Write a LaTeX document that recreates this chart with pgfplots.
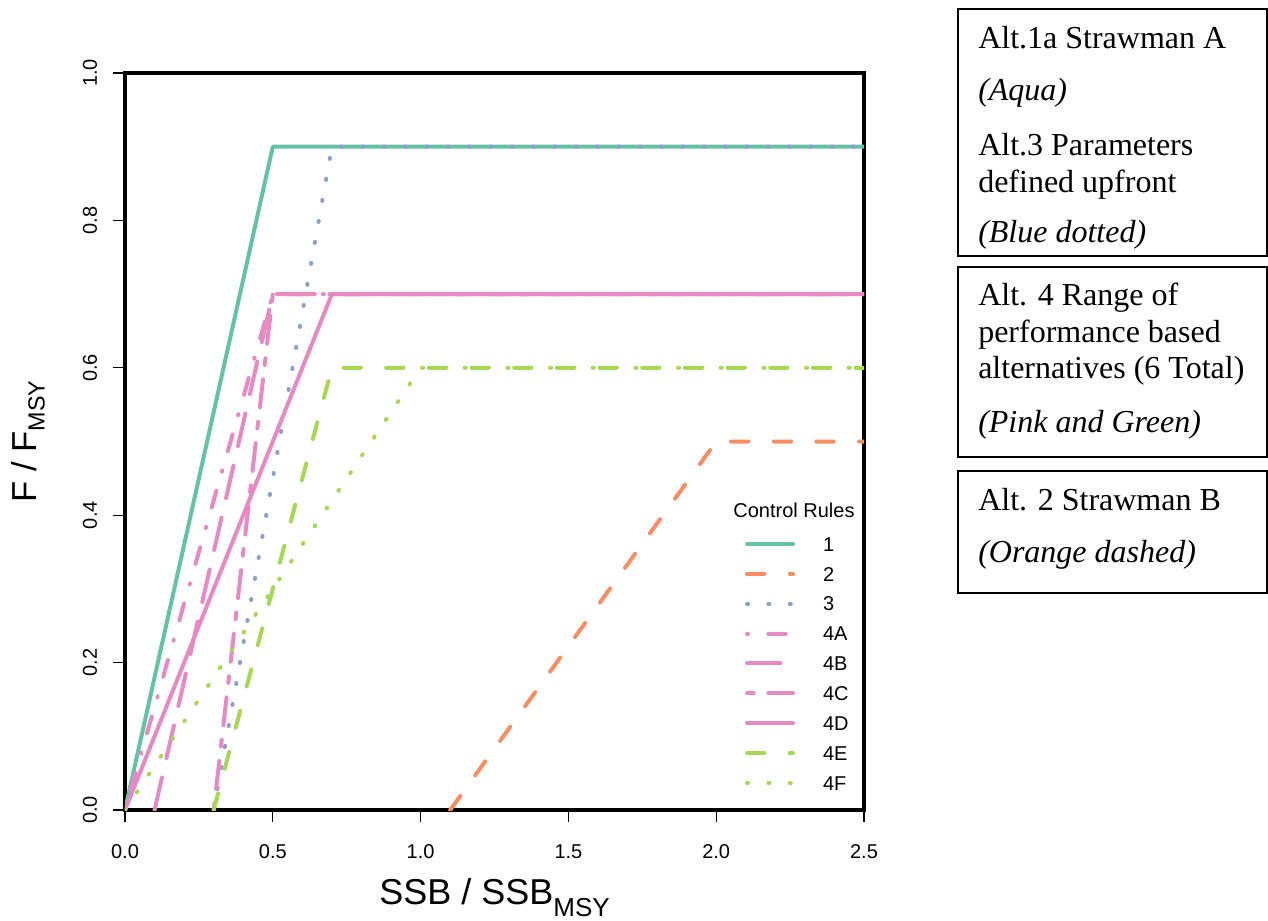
\documentclass[border=0pt]{standalone}
\usepackage{fontspec}
\setmainfont{Liberation Sans}
\newfontfamily\tnr{Liberation Serif}
\usepackage{pgfplots}
\pgfplotsset{compat=1.18}
\definecolor{sA}{HTML}{66C2A5}
\definecolor{sB}{HTML}{FC8D62}
\definecolor{sC}{HTML}{8DA0CB}
\definecolor{sD}{HTML}{E78AC3}
\definecolor{sE}{HTML}{A6D854}
\tikzset{
  dashR/.style={dash pattern=on 13pt off 19pt},
  dotR/.style={dash pattern=on 0.8pt off 15.2pt},
  dotdashR/.style={dash pattern=on 0.8pt off 15.2pt on 13pt off 15pt},
  longdashR/.style={dash pattern=on 25pt off 15pt},
  twodashR/.style={dash pattern=on 5pt off 11pt on 21pt off 11pt},
}
\begin{document}
\begin{tikzpicture}
\path[use as bounding box] (0,0) rectangle (951pt,-690.75pt);
\begin{axis}[
  at={(93.75pt,-607.5pt)}, anchor=south west,
  width=554.25pt, height=552.75pt, scale only axis,
  xmin=0, xmax=2.5, ymin=0, ymax=1,
  xtick={0,0.5,1,1.5,2,2.5},
  xticklabels={0.0,0.5,1.0,1.5,2.0,2.5},
  ytick={0,0.2,0.4,0.6,0.8,1},
  yticklabels={0.0,0.2,0.4,0.6,0.8,1.0},
  xtick pos=lower, ytick pos=left,
  tick align=outside,
  major tick length=9pt,
  major tick style={line width=0.8pt, black},
  axis line style={line width=2.5pt, black},
  ticklabel style={font=\fontsize{15}{18}\selectfont},
  xticklabel style={anchor=base},
  yticklabel style={rotate=90, anchor=base},
  xticklabel shift=27pt,
  yticklabel shift=12pt,
  xlabel={SSB / SSB\raisebox{-0.35em}{\fontsize{19.5}{20}\selectfont MSY}},
  ylabel={F / F\raisebox{-0.22em}{\fontsize{17.5}{18}\selectfont MSY}},
  xlabel style={font=\fontsize{27}{30}\selectfont, at={([yshift=-70.5pt]axis description cs:0.5,0)}, anchor=base},
  ylabel style={font=\fontsize{26}{30}\selectfont, at={([xshift=-66pt]axis description cs:0,0.5)}, anchor=base, rotate=0},
  every axis plot/.append style={line width=3pt, line cap=round, line join=round, no markers},
  legend style={at={(0.839,0.3707)}, anchor=north west, draw=none, fill=none,
    inner sep=0pt, outer sep=0pt, row sep=11.6pt, column sep=21pt,
    nodes={inner sep=0pt, text height=10.8pt, text depth=0pt, font=\fontsize{15}{18}\selectfont}},
  legend cell align=left,
  legend image code/.code={\draw[#1] (1.5pt,0pt) -- (36pt,0pt);},
]
\addplot[sA] coordinates {(0,0) (0.5,0.9) (2.5,0.9)};
\addlegendentry{1}
\addplot[sB, dashR] coordinates {(1.1,0) (2.0,0.5) (2.5,0.5)};
\addlegendentry{2}
\addplot[sC, dotR] coordinates {(0.3,0) (0.7,0.9) (2.5,0.9)};
\addlegendentry{3}
\addplot[sD, dotdashR] coordinates {(0,0) (0.5,0.7) (2.5,0.7)};
\addlegendentry{4A}
\addplot[sD, longdashR] coordinates {(0.1,0) (0.5,0.7) (2.5,0.7)};
\addlegendentry{4B}
\addplot[sD, twodashR] coordinates {(0.3,0) (0.5,0.7) (2.5,0.7)};
\addlegendentry{4C}
\addplot[sD] coordinates {(0,0) (0.7,0.7) (2.5,0.7)};
\addlegendentry{4D}
\addplot[sE, dashR] coordinates {(0.3,0) (0.7,0.6) (2.5,0.6)};
\addlegendentry{4E}
\addplot[sE, dotR] coordinates {(0,0) (1.0,0.6) (2.5,0.6)};
\addlegendentry{4F}
\end{axis}
\node[anchor=base, font=\fontsize{15}{18}\selectfont] at (595.5pt,-387.75pt) {Control Rules};
% right boxes
\draw[line width=1.1pt] (718.5pt,-6.75pt) rectangle (950.25pt,-192pt);
\draw[line width=1.1pt] (718.5pt,-200.25pt) rectangle (950.25pt,-342.75pt);
\draw[line width=1.1pt] (718.5pt,-353.25pt) rectangle (950.25pt,-444.75pt);
\begin{scope}[every node/.style={anchor=base west, inner sep=0pt, font=\tnr\fontsize{24}{28}\selectfont}]
\node at (733.5pt,-36pt) {Alt.1a Strawman A};
\node at (733.5pt,-75pt) {\itshape (Aqua)};
\node at (733.5pt,-116.25pt) {Alt.3 Parameters};
\node at (733.5pt,-144pt) {defined upfront};
\node at (733.5pt,-181.5pt) {\itshape (Blue dotted)};
\node at (733.5pt,-228.75pt) {Alt. 4 Range of};
\node at (733.5pt,-256.5pt) {performance based};
\node at (733.5pt,-283.5pt) {alternatives (6 Total)};
\node at (733.5pt,-324pt) {\itshape (Pink and Green)};
\node at (733.5pt,-382.5pt) {Alt. 2 Strawman B};
\node at (733.5pt,-421.5pt) {\itshape (Orange dashed)};
\end{scope}
\end{tikzpicture}
\end{document}
